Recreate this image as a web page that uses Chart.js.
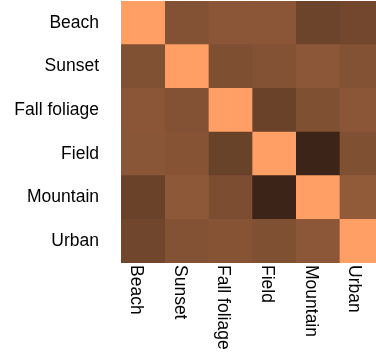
<!DOCTYPE html>
<html>
<head>
<meta charset="utf-8">
<script src="https://cdn.jsdelivr.net/npm/chart.js@4/dist/chart.umd.min.js"></script>
<style>
html,body{margin:0;padding:0;background:#fff;overflow:hidden;width:376px;height:354px;}
#wrap{width:383px;height:354px;position:relative;}
</style>
</head>
<body>
<div id="wrap"><canvas id="c" width="383" height="354"></canvas></div>
<script>
const categories = ["Beach", "Sunset", "Fall foliage", "Field", "Mountain", "Urban"];
const row0 = [0.80, 0.411, 0.433, 0.433, 0.339, 0.358];
const row1 = [0.405, 0.80, 0.398, 0.411, 0.439, 0.411];
const row2 = [0.433, 0.411, 0.80, 0.333, 0.402, 0.433];
const row3 = [0.430, 0.420, 0.329, 0.80, 0.188, 0.402];
const row4 = [0.333, 0.442, 0.389, 0.188, 0.80, 0.455];
const row5 = [0.351, 0.411, 0.420, 0.402, 0.439, 0.80];
const matrix = [row0, row1, row2, row3, row4, row5];

function copper(v) {
  const r = Math.min(1, 1.25 * v), g = 0.7812 * v, b = 0.4975 * v;
  return `rgb(${Math.round(r*255)},${Math.round(g*255)},${Math.round(b*255)})`;
}

const datasets = categories.map((col, j) => ({
  label: col,
  data: categories.map(() => 1),
  backgroundColor: matrix.map(row => copper(row[j])),
  borderWidth: 0,
  barPercentage: 1,
  categoryPercentage: 1
}));

const bottomLabels = {
  id: 'bottomLabels',
  afterDraw(chart) {
    const ctx = chart.ctx, xs = chart.scales.x, area = chart.chartArea;
    ctx.save();
    ctx.fillStyle = '#000';
    ctx.font = '17.5px "Liberation Sans", Arial, sans-serif';
    ctx.textAlign = 'left';
    ctx.textBaseline = 'alphabetic';
    categories.forEach((c, j) => {
      const x = xs.getPixelForValue(j + 0.5);
      ctx.save();
      ctx.translate(x, area.bottom + 2);
      ctx.rotate(Math.PI / 2);
      ctx.fillText(c, 0, 12);
      ctx.restore();
    });
    ctx.restore();
  }
};

new Chart(document.getElementById('c'), {
  type: 'bar',
  data: { labels: categories, datasets },
  options: {
    indexAxis: 'y',
    responsive: false,
    animation: false,
    events: [],
    layout: { autoPadding: false, padding: { top: 1, bottom: 91, left: 0, right: 0 } },
    plugins: { legend: { display: false }, tooltip: { enabled: false } },
    scales: {
      x: { type: 'linear', stacked: true, min: 0, max: 6, display: false },
      y: {
        stacked: true,
        border: { display: false },
        grid: { display: false, drawTicks: false },
        afterFit: s => { s.width = 121; s.paddingTop = 0; s.paddingBottom = 0; },
        ticks: {
          color: '#000',
          padding: 22,
          font: { family: '"Liberation Sans", Arial, sans-serif', size: 17.5 }
        }
      }
    }
  },
  plugins: [bottomLabels]
});
</script>
</body>
</html>
